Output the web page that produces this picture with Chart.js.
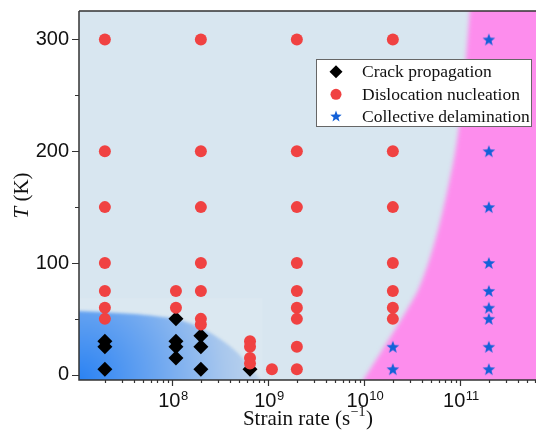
<!DOCTYPE html>
<html>
<head>
<meta charset="utf-8">
<script src="https://cdn.jsdelivr.net/npm/chart.js@4.4.0/dist/chart.umd.min.js"></script>
<style>
  html, body { margin: 0; padding: 0; background: #fff; overflow: hidden; }
  canvas { display: block; }
</style>
</head>
<body>
<canvas id="phaseChart" width="536" height="437"></canvas>
<script>
// crack propagation (strain rate in 1/s, temperature in K)
const crackRate = [2e7, 2e7, 2e7, 1.1e8, 1.1e8, 1.1e8, 1.1e8, 2e8, 2e8, 2e8, 6.5e8];
const crackT    = [30, 25, 5, 50, 30, 25, 15, 35, 25, 5, 5];

// dislocation nucleation
const dislocRate = [
    2e7, 2e7, 2e7, 2e7, 2e7, 2e7, 2e7,
    1.1e8, 1.1e8,
    2e8, 2e8, 2e8, 2e8, 2e8, 2e8, 2e8,
    6.5e8, 6.5e8, 6.5e8, 6.5e8,
    1.1e9,
    2e9, 2e9, 2e9, 2e9, 2e9, 2e9, 2e9, 2e9, 2e9,
    2e10, 2e10, 2e10, 2e10, 2e10, 2e10, 2e10
];
const dislocT = [
    300, 200, 150, 100, 75, 60, 50,
    75, 60,
    300, 200, 150, 100, 75, 50, 45,
    30, 25, 15, 10,
    5,
    300, 200, 150, 100, 75, 60, 50, 25, 5,
    300, 200, 150, 100, 75, 60, 50
];

// collective delamination
const delamRate = [2e10, 2e10, 2e11, 2e11, 2e11, 2e11, 2e11, 2e11, 2e11, 2e11, 2e11];
const delamT    = [25, 5, 300, 200, 150, 100, 75, 60, 50, 25, 5];

// region borders (strain rate, T)
const blueEdgeRate = [1.0e7, 3.6e7, 1.0e8, 1.6e8, 2.6e8, 4.0e8, 5.5e8, 7.0e8, 8.5e8];
const blueEdgeT    = [57, 55, 51, 46, 37, 26, 15, 4, -5];
const pinkEdgeRate = [9.8e9, 2.0e10, 3.24e10, 3.83e10, 5.25e10, 7.0e10, 1.0e11, 1.27e11];
const pinkEdgeT    = [-5, 37, 67, 78.5, 112, 154, 219, 326];

const xPowers = [8, 9, 10, 11];
const yLabels = [0, 100, 200, 300];

const toPoints = (xs, ys) => xs.map((x, i) => ({ x: x, y: ys[i] }));

// five pointed star marker
let makeStar = (r, color) => {
    const c = document.createElement('canvas');
    const s = Math.ceil(r * 2 + 2);
    c.width = s;
    c.height = s;
    const g = c.getContext('2d');
    g.fillStyle = color;
    g.beginPath();
    for (let i = 0; i < 10; i++) {
        const rr = i % 2 === 0 ? r : r * 0.42;
        const a = -Math.PI / 2 + i * Math.PI / 5;
        const px = s / 2 + rr * Math.cos(a);
        const py = s / 2 + 0.6 + rr * Math.sin(a);
        if (i === 0) g.moveTo(px, py); else g.lineTo(px, py);
    }
    g.closePath();
    g.fill();
    return c;
};

const starImg = makeStar(6.6, '#1461d8');
const starLegend = makeStar(6.0, '#1461d8');

// smooth line through pixel points (midpoint quadratics)
let smoothThrough = (ctx, pts) => {
    ctx.lineTo(pts[0][0], pts[0][1]);
    for (let i = 1; i < pts.length - 1; i++) {
        const mx = (pts[i][0] + pts[i + 1][0]) / 2;
        const my = (pts[i][1] + pts[i + 1][1]) / 2;
        ctx.quadraticCurveTo(pts[i][0], pts[i][1], mx, my);
    }
    const last = pts[pts.length - 1];
    ctx.lineTo(last[0], last[1]);
};

const backgroundPlugin = {
    id: 'regions',
    beforeDatasetsDraw(chart) {
        const { ctx, chartArea: a, scales: { x, y } } = chart;
        ctx.save();
        ctx.beginPath();
        ctx.rect(a.left, a.top, a.right - a.left, a.bottom - a.top);
        ctx.clip();

        ctx.fillStyle = '#d8e6f0';
        ctx.fillRect(a.left, a.top, a.right - a.left, a.bottom - a.top);

        // faint box behind the blue corner
        const bx = x.getPixelForValue(8.7e8);
        const by = y.getPixelForValue(68.5);
        ctx.fillStyle = '#dbe8f1';
        ctx.fillRect(a.left, by, bx - a.left, a.bottom - by);

        // blue corner
        ctx.filter = 'blur(1.5px)';
        ctx.beginPath();
        ctx.moveTo(a.left - 10, a.bottom + 10);
        ctx.lineTo(a.left - 10, y.getPixelForValue(blueEdgeT[0]));
        smoothThrough(ctx, blueEdgeRate.map((r, i) => [x.getPixelForValue(r), y.getPixelForValue(blueEdgeT[i])]));
        ctx.lineTo(x.getPixelForValue(blueEdgeRate[blueEdgeRate.length - 1]), a.bottom + 10);
        ctx.closePath();
        const grad = ctx.createRadialGradient(a.left, a.bottom, 0, a.left, a.bottom, 195);
        grad.addColorStop(0, '#2a82f3');
        grad.addColorStop(0.4, '#6ca6f0');
        grad.addColorStop(0.75, '#a8c7ed');
        grad.addColorStop(1, '#c6d9ec');
        ctx.fillStyle = grad;
        ctx.fill();

        // pink region
        ctx.filter = 'blur(2px)';
        ctx.beginPath();
        ctx.moveTo(x.getPixelForValue(pinkEdgeRate[0]), a.bottom + 10);
        smoothThrough(ctx, pinkEdgeRate.map((r, i) => [x.getPixelForValue(r), y.getPixelForValue(pinkEdgeT[i])]));
        ctx.lineTo(x.getPixelForValue(pinkEdgeRate[pinkEdgeRate.length - 1]), a.top - 10);
        ctx.lineTo(a.right + 10, a.top - 10);
        ctx.lineTo(a.right + 10, a.bottom + 10);
        ctx.closePath();
        ctx.fillStyle = '#fd8ded';
        ctx.fill();
        ctx.filter = 'none';
        ctx.restore();
    }
};

const axesPlugin = {
    id: 'axesAndLegend',
    afterDraw(chart) {
        const { ctx, chartArea: a, scales: { x, y } } = chart;
        ctx.save();
        ctx.strokeStyle = '#333';
        ctx.lineWidth = 1.5;
        ctx.beginPath();
        ctx.moveTo(a.left, a.top);
        ctx.lineTo(a.left, a.bottom);
        ctx.lineTo(a.right, a.bottom);
        ctx.moveTo(a.left, a.top);
        ctx.lineTo(a.right, a.top);
        ctx.stroke();

        // y ticks
        ctx.lineWidth = 1.2;
        ctx.beginPath();
        y.ticks.forEach(t => {
            const py = Math.round(y.getPixelForValue(t.value)) + 0.5;
            const len = yLabels.includes(t.value) ? 7 : 4;
            ctx.moveTo(a.left - len, py);
            ctx.lineTo(a.left, py);
        });
        // x ticks
        x.ticks.forEach(t => {
            const v = t.value;
            const e = Math.floor(Math.log10(v) + 1e-9);
            const s = v / Math.pow(10, e);
            if (Math.abs(s - Math.round(s)) > 1e-6) return;
            const px = Math.round(x.getPixelForValue(v)) + 0.5;
            const len = Math.round(s) === 1 ? 6 : 3;
            ctx.moveTo(px, a.bottom);
            ctx.lineTo(px, a.bottom + len);
        });
        ctx.stroke();

        // x tick labels 10^n
        ctx.fillStyle = '#111';
        ctx.textBaseline = 'alphabetic';
        ctx.textAlign = 'left';
        xPowers.forEach(p => {
            const px = x.getPixelForValue(Math.pow(10, p));
            ctx.font = '20px "Liberation Sans"';
            const wb = ctx.measureText('10').width;
            ctx.font = '13px "Liberation Sans"';
            const we = ctx.measureText(String(p)).width;
            const x0 = px - (wb + we) / 2 + 1;
            ctx.font = '20px "Liberation Sans"';
            ctx.fillText('10', x0, a.bottom + 27);
            ctx.font = '13px "Liberation Sans"';
            ctx.fillText(String(p), x0 + wb + 0.5, a.bottom + 20);
        });

        // x title
        const main = 'Strain rate (s';
        ctx.font = '21px "Liberation Serif"';
        const w1 = ctx.measureText(main).width;
        const w3 = ctx.measureText(')').width;
        ctx.font = '14px "Liberation Serif"';
        const w2 = ctx.measureText('\u22121').width;
        const cx = (a.left + a.right) / 2;
        let tx = cx - (w1 + w2 + w3) / 2;
        const ty = 425;
        ctx.font = '21px "Liberation Serif"';
        ctx.fillText(main, tx, ty);
        ctx.font = '14px "Liberation Serif"';
        ctx.fillText('\u22121', tx + w1 + 0.5, ty - 9);
        ctx.font = '21px "Liberation Serif"';
        ctx.fillText(')', tx + w1 + w2 + 1, ty);

        // y title
        ctx.save();
        ctx.translate(28, (a.top + a.bottom) / 2);
        ctx.rotate(-Math.PI / 2);
        ctx.font = 'italic 21px "Liberation Serif"';
        const wt = ctx.measureText('T').width;
        ctx.font = '21px "Liberation Serif"';
        const wk = ctx.measureText(' (K)').width;
        ctx.font = 'italic 21px "Liberation Serif"';
        ctx.fillText('T', -(wt + wk) / 2, 0);
        ctx.font = '21px "Liberation Serif"';
        ctx.fillText(' (K)', -(wt + wk) / 2 + wt, 0);
        ctx.restore();

        // legend
        ctx.fillStyle = '#fff';
        ctx.strokeStyle = '#666';
        ctx.lineWidth = 1;
        ctx.fillRect(316.5, 59.5, 215, 67);
        ctx.strokeRect(316.5, 59.5, 215, 67);
        const rows = [71.7, 94.3, 116];
        const legendStyles = [
            { pointStyle: 'rectRot', radius: 6.5, color: '#000' },
            { pointStyle: 'circle', radius: 5.5, color: '#f04242' },
            { pointStyle: starLegend, radius: 6, color: '#1461d8' }
        ];
        chart.data.datasets.forEach((ds, i) => {
            const st = legendStyles[i];
            ctx.fillStyle = st.color;
            ctx.strokeStyle = st.color;
            Chart.helpers.drawPoint(ctx, { pointStyle: st.pointStyle, radius: st.radius, rotation: 0, borderWidth: 0 }, 336, rows[i]);
            ctx.fillStyle = '#111';
            ctx.font = '17.5px "Liberation Serif"';
            ctx.textBaseline = 'middle';
            ctx.fillText(ds.label, 362, rows[i] + 1);
        });
        ctx.restore();
    }
};

// keep the plot box where the picture has it
let fixBox = (size) => (scale) => {
    if (scale.isHorizontal()) scale.height = size; else scale.width = size;
    scale.paddingTop = 0;
    scale.paddingBottom = 0;
    scale.paddingLeft = 0;
    scale.paddingRight = 0;
};

const ctx = document.getElementById('phaseChart');

const config = {
    type: 'scatter',
    data: {
        datasets: [{
            label: 'Crack propagation',
            data: toPoints(crackRate, crackT),
            pointStyle: 'rectRot',
            pointRadius: 7.5,
            backgroundColor: '#000',
            borderColor: '#000',
            borderWidth: 0,
            order: 1
        }, {
            label: 'Dislocation nucleation',
            data: toPoints(dislocRate, dislocT),
            pointStyle: 'circle',
            pointRadius: 6,
            backgroundColor: '#f04242',
            borderColor: '#f04242',
            borderWidth: 0,
            order: 0
        }, {
            label: 'Collective delamination',
            data: toPoints(delamRate, delamT),
            pointStyle: starImg,
            pointRadius: 7,
            backgroundColor: '#1461d8',
            borderWidth: 0,
            order: 2
        }]
    },
    options: {
        responsive: false,
        animation: false,
        layout: { autoPadding: false, padding: { top: 11, left: 0, right: 0, bottom: 0 } },
        plugins: {
            legend: { display: false },
            tooltip: { enabled: false }
        },
        scales: {
            x: {
                type: 'logarithmic',
                min: 1.075e7,
                max: 6.2e11,
                grid: { display: false, drawTicks: false },
                border: { display: false },
                ticks: { display: false, autoSkip: false },
                afterFit: fixBox(57)
            },
            y: {
                type: 'linear',
                min: -4.7,
                max: 325.5,
                grid: { display: false, drawTicks: false },
                border: { display: false },
                ticks: {
                    stepSize: 50,
                    includeBounds: false,
                    padding: 10,
                    color: '#111',
                    font: { family: '"Liberation Sans"', size: 20 },
                    callback: (v) => yLabels.includes(v) ? String(v) : ''
                },
                afterFit: fixBox(79)
            }
        }
    },
    plugins: [backgroundPlugin, axesPlugin]
};

const chart = new Chart(ctx, config);
</script>
</body>
</html>
